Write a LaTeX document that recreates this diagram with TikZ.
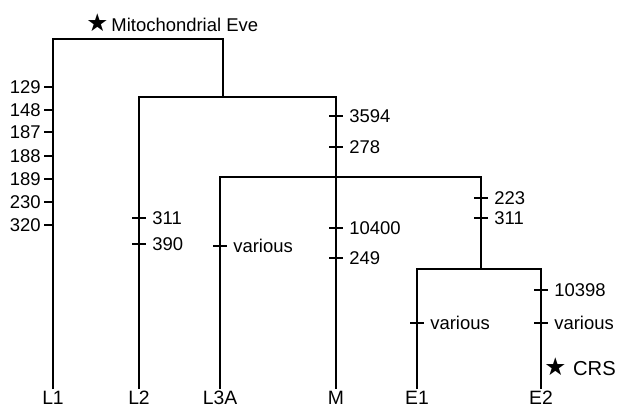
\documentclass[tikz,border=0pt]{standalone}
\usepackage{fontspec}
\setmainfont{Liberation Sans}
\newfontfamily\symfont{DejaVu Sans}
\usetikzlibrary{positioning}

\begin{document}
\begin{tikzpicture}[x=0.02cm, y=-0.02cm,
    branch/.style={line width=1.1pt},
    site/.style={anchor=west, inner sep=0pt, font=\fontsize{10.5}{12}\selectfont},
    taxon/.style={anchor=north, inner sep=1pt, font=\fontsize{11}{13}\selectfont}
]
\useasboundingbox (0,0) rectangle (630,414);

\node[taxon] (L1) at (53,389) {L1};
\node[taxon] (L2) at (139,389) {L2};
\node[taxon] (L3A) at (220,389) {L3A};
\node[taxon] (M) at (336,389) {M};
\node[taxon] (E1) at (417,389) {E1};
\node[taxon] (E2) at (541,389) {E2};

\coordinate (root) at (223,39);
\coordinate (n1) at (223,97);
\coordinate (n2) at (481,177);
\coordinate (n3) at (481,269);

\draw[branch] (L1.north) |- (root) -- (n1);
\draw[branch] (L2.north) |- (n1) -| (M.north);
\draw[branch] (L3A.north) |- (n2) -- (n3);
\draw[branch] (E1.north) |- (n3) -| (E2.north);

\foreach \y/\t in {87/129, 110/148, 132/187, 156/188, 179/189, 202/230, 225/320}
{
    \draw[branch] (44,\y) -- (53,\y);
    \node[site, anchor=east] at (41,\y) {\t};
}

\foreach \x/\y/\t in {139/218/311, 139/244/390, 220/246/various, 336/116/3594, 336/147/278,
    336/228/10400, 336/258/249, 481/198/223, 481/218/311, 417/323/various, 541/290/10398, 541/323/various}
{
    \draw[branch] (\x-7,\y) -- (\x+7,\y);
    \node[site] at (\x+13,\y) {\t};
}

\node[site, font=\fontsize{10.5}{12}\selectfont] (eve) at (86,23) {{\symfont\fontsize{14}{14}\selectfont ★}\,Mitochondrial Eve};
\node[site, font=\fontsize{11.5}{13}\selectfont] (crs) at (544,367) {{\symfont\fontsize{14}{14}\selectfont ★}\,\,CRS};
\end{tikzpicture}
\end{document}
